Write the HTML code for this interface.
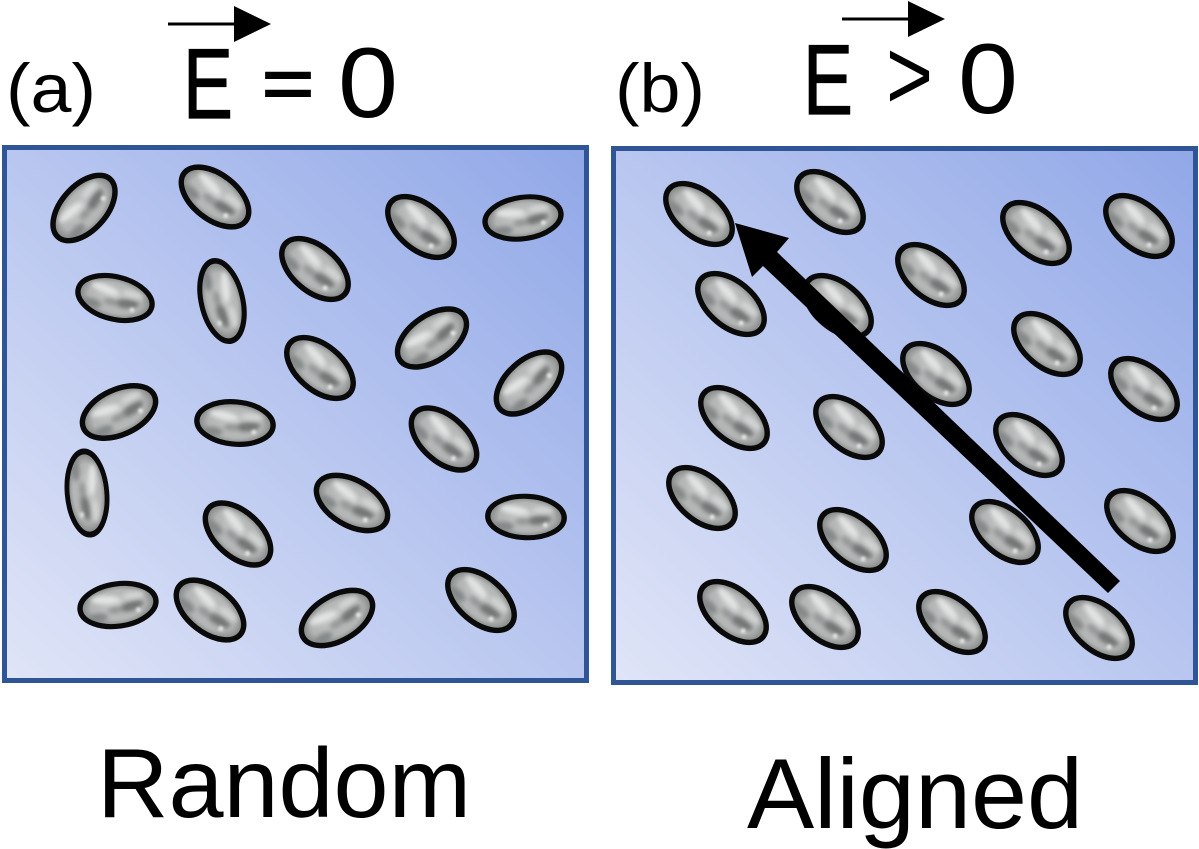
<!DOCTYPE html>
<html><head><meta charset="utf-8"><style>
html,body{margin:0;padding:0;background:#fff;width:1199px;height:849px;overflow:hidden}
svg{display:block}
text{font-family:"Liberation Sans",sans-serif;fill:#000}
</style></head><body>
<svg width="1199" height="849" viewBox="0 0 1199 849" xmlns="http://www.w3.org/2000/svg">
<defs>
<linearGradient id="bg" x1="0" y1="1" x2="1" y2="0">
<stop offset="0" stop-color="#e0e5f7"/><stop offset="1" stop-color="#91a8e8"/>
</linearGradient>
<radialGradient id="base" cx="50%" cy="50%" r="50%">
<stop offset="0" stop-color="#c4c7c6"/><stop offset=".7" stop-color="#b2b5b4"/><stop offset="1" stop-color="#7c7f7f"/>
</radialGradient>
<filter id="bl" x="-40%" y="-60%" width="180%" height="220%"><feGaussianBlur stdDeviation="2.4"/></filter>
<filter id="bs" x="-100%" y="-100%" width="300%" height="300%"><feGaussianBlur stdDeviation="1.4"/></filter>
<clipPath id="cp"><ellipse rx="39" ry="22.5"/></clipPath>
<g id="e">
<g clip-path="url(#cp)">
<ellipse rx="39" ry="22.5" fill="url(#base)"/>
<g filter="url(#bl)">
<ellipse cx="-12" cy="-7" rx="15" ry="4.5" fill="#e2e4e3" transform="rotate(8 -12 -7)"/>
<ellipse cx="17" cy="-8" rx="11" ry="4" fill="#d2d4d3"/>
<ellipse cx="13" cy="3" rx="13" ry="5" fill="#737676" transform="rotate(-10 13 3)"/>
<ellipse cx="-3" cy="5" rx="8" ry="4" fill="#959898"/>
<ellipse cx="-22" cy="11" rx="10" ry="5" fill="#858888"/>
</g>
<circle cx="20" cy="8" r="2.4" fill="#e8eaea" filter="url(#bs)"/>
</g>
<ellipse rx="39" ry="22.5" fill="none" stroke="#0a0a0a" stroke-width="5.5"/>
</g>
</defs>
<rect width="1199" height="849" fill="#fff"/>

<rect x="4.5" y="147.5" width="582" height="533" fill="url(#bg)" stroke="#2f5597" stroke-width="5"/>
<rect x="613.5" y="148.5" width="582" height="534" fill="url(#bg)" stroke="#2f5597" stroke-width="5"/>

<!-- panel a -->
<use href="#e" transform="translate(84,208) rotate(-48)"/>
<use href="#e" transform="translate(215,197) rotate(38)"/>
<use href="#e" transform="translate(421,227) rotate(40)"/>
<use href="#e" transform="translate(523,218) rotate(-8) scale(.98,.92)"/>
<use href="#e" transform="translate(115,298) rotate(14) scale(.97,.94)"/>
<use href="#e" transform="translate(222,301) rotate(77) scale(1.05,.92)"/>
<use href="#e" transform="translate(315,269) rotate(40)"/>
<use href="#e" transform="translate(432,338) rotate(-35)"/>
<use href="#e" transform="translate(320,368) rotate(40)"/>
<use href="#e" transform="translate(529,383) rotate(-42)"/>
<use href="#e" transform="translate(119,412) rotate(-25)"/>
<use href="#e" transform="translate(235,423) rotate(5) scale(.98,.94)"/>
<use href="#e" transform="translate(444,439) rotate(42)"/>
<use href="#e" transform="translate(87,493) rotate(85) scale(1.07,.88)"/>
<use href="#e" transform="translate(352,503) rotate(30)"/>
<use href="#e" transform="translate(238,534) rotate(42)"/>
<use href="#e" transform="translate(526,517) rotate(2) scale(.98,.92)"/>
<use href="#e" transform="translate(118,605) rotate(-8) scale(.98,.94)"/>
<use href="#e" transform="translate(210,610) rotate(38)"/>
<use href="#e" transform="translate(337,618) rotate(-30)"/>
<use href="#e" transform="translate(481,600) rotate(40)"/>

<!-- panel b -->
<use href="#e" transform="translate(699,214) rotate(40)"/>
<use href="#e" transform="translate(830,202) rotate(40)"/>
<use href="#e" transform="translate(1036,233) rotate(40)"/>
<use href="#e" transform="translate(1139,226) rotate(40)"/>
<use href="#e" transform="translate(731,304) rotate(40)"/>
<use href="#e" transform="translate(931,275) rotate(40)"/>
<use href="#e" transform="translate(838,306) rotate(40)"/>
<use href="#e" transform="translate(1047,344) rotate(40)"/>
<use href="#e" transform="translate(936,374) rotate(40)"/>
<use href="#e" transform="translate(1144,389) rotate(40)"/>
<use href="#e" transform="translate(734,418) rotate(40)"/>
<use href="#e" transform="translate(849,427) rotate(40)"/>
<use href="#e" transform="translate(1029,445) rotate(40)"/>
<use href="#e" transform="translate(702,498) rotate(40)"/>
<use href="#e" transform="translate(1005,532) rotate(40)"/>
<use href="#e" transform="translate(853,540) rotate(40)"/>
<use href="#e" transform="translate(1140,521) rotate(40)"/>
<use href="#e" transform="translate(733,612) rotate(40)"/>
<use href="#e" transform="translate(825,617) rotate(40)"/>
<use href="#e" transform="translate(952,622) rotate(40)"/>
<use href="#e" transform="translate(1099,628) rotate(40)"/>

<!-- big arrow -->
<polygon points="735,223 789,238 777,252 1120,581 1108,593 763,266 752,277" fill="#000"/>
<ellipse cx="822" cy="313" rx="14" ry="9" transform="rotate(42 822 313)" fill="#000"/>

<!-- small arrows -->
<line x1="168" y1="24" x2="236" y2="24" stroke="#000" stroke-width="3"/>
<polygon points="234,6 271,24 234,42" fill="#000"/>
<line x1="842" y1="19" x2="910" y2="19" stroke="#000" stroke-width="3"/>
<polygon points="908,1 945,19 908,37" fill="#000"/>

<!-- labels -->
<text x="6" y="112" font-size="69" textLength="90" lengthAdjust="spacingAndGlyphs">(a)</text>
<text x="615" y="112" font-size="69" textLength="90" lengthAdjust="spacingAndGlyphs">(b)</text>
<text x="183" y="118" font-size="99" textLength="50" lengthAdjust="spacingAndGlyphs" stroke="#000" stroke-width="1.2">E</text>
<text x="262" y="108" font-size="72" textLength="52" lengthAdjust="spacingAndGlyphs" stroke="#000" stroke-width="2">=</text>
<text x="338" y="117" font-size="99" textLength="60" lengthAdjust="spacingAndGlyphs">0</text>
<text x="803" y="114" font-size="99" textLength="50" lengthAdjust="spacingAndGlyphs" stroke="#000" stroke-width="1.2">E</text>
<text x="886" y="109" font-size="100" textLength="47" lengthAdjust="spacingAndGlyphs">&gt;</text>
<text x="958" y="113" font-size="99" textLength="60" lengthAdjust="spacingAndGlyphs">0</text>
<text x="97" y="817" font-size="98" textLength="374" lengthAdjust="spacingAndGlyphs">Random</text>
<text x="747" y="828" font-size="99" textLength="336" lengthAdjust="spacingAndGlyphs">Aligned</text>
</svg>
</body></html>
